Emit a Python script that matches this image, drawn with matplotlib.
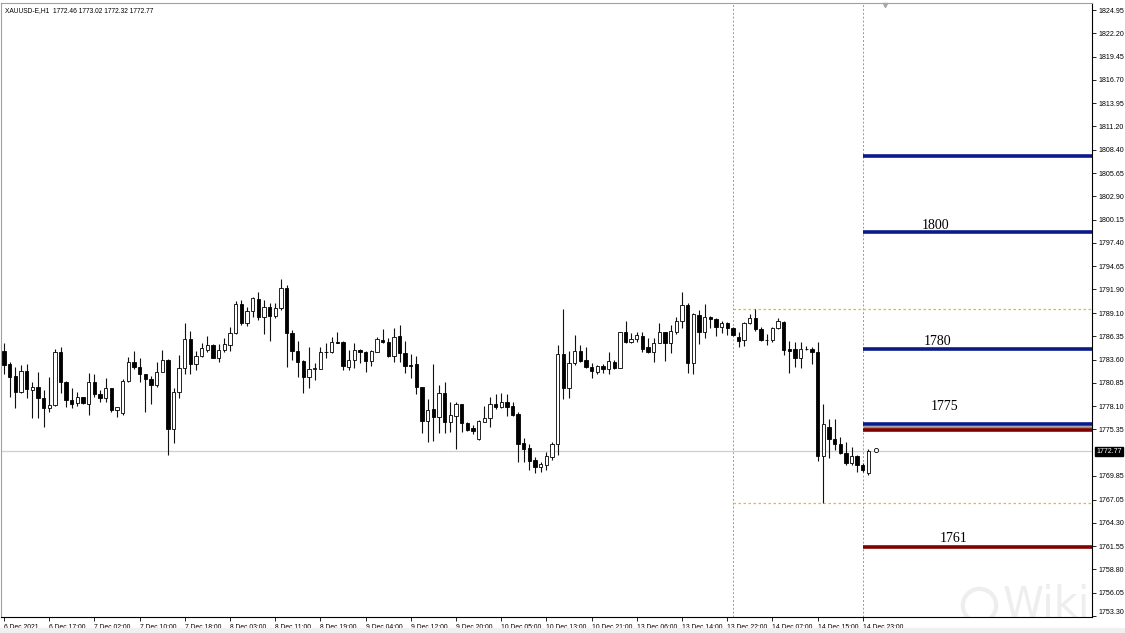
import matplotlib
matplotlib.use("Agg")
import matplotlib.pyplot as plt
import matplotlib.transforms as mtrans
import numpy as np

# XAUUSD H1 candles (6 Dec - 14 Dec 2021)
opens = [1784.62, 1783.04, 1781.66, 1779.81, 1782.25, 1780.05, 1780.32, 1779.10, 1777.92, 1778.23,
         1784.54, 1780.99, 1778.82, 1778.43, 1779.14, 1778.31, 1780.99, 1779.53, 1779.02, 1780.20,
         1777.64, 1777.25, 1781.07, 1783.36, 1782.77, 1781.86, 1781.27, 1780.60, 1782.18, 1783.56,
         1775.39, 1779.73, 1782.57, 1786.00, 1783.08, 1784.07, 1784.74, 1785.33, 1783.75, 1784.74,
         1785.33, 1786.71, 1790.14, 1787.89, 1789.35, 1790.77, 1788.68, 1789.86, 1788.80, 1789.67,
         1792.03, 1786.71, 1784.62, 1783.44, 1781.51, 1782.49, 1782.49, 1784.46, 1784.54, 1785.65,
         1785.72, 1782.77, 1783.56, 1784.74, 1784.46, 1783.44, 1784.54, 1785.92, 1785.72, 1784.03,
         1786.39, 1784.42, 1782.96, 1783.04, 1780.36, 1776.38, 1777.76, 1776.85, 1779.61, 1776.18,
         1776.96, 1778.35, 1776.14, 1775.47, 1774.20, 1776.26, 1776.65, 1778.35, 1777.95, 1778.54,
         1778.11, 1777.12, 1773.69, 1773.10, 1771.72, 1770.85, 1771.13, 1772.12, 1773.61, 1784.22,
         1780.28, 1783.16, 1784.61, 1783.55, 1782.76, 1782.17, 1782.84, 1782.48, 1783.35, 1782.64,
         1786.82, 1785.72, 1786.00, 1786.39, 1785.05, 1784.46, 1785.60, 1786.82, 1785.52, 1786.90,
         1788.16, 1790.05, 1783.15, 1788.87, 1786.82, 1788.60, 1788.40, 1787.41, 1787.89, 1787.29,
         1786.23, 1785.91, 1787.89, 1788.48, 1787.18, 1785.91, 1785.91, 1787.29, 1788.08, 1784.81,
         1784.81, 1783.75, 1784.81, 1784.81, 1784.53, 1772.23, 1775.66, 1774.20, 1773.57, 1772.59,
         1771.40, 1772.23, 1771.13, 1770.14]
highs = [1785.53, 1783.28, 1782.77, 1782.96, 1783.08, 1780.99, 1782.18, 1780.01, 1781.58, 1784.86,
         1785.13, 1781.07, 1780.28, 1779.73, 1779.22, 1781.98, 1781.90, 1780.01, 1781.39, 1780.28,
         1778.04, 1781.31, 1783.95, 1784.62, 1783.75, 1781.90, 1781.66, 1783.36, 1784.74, 1783.63,
         1780.20, 1784.15, 1787.89, 1786.99, 1784.62, 1785.61, 1786.39, 1785.45, 1785.41, 1786.12,
         1787.50, 1790.53, 1790.65, 1789.86, 1791.05, 1791.64, 1790.65, 1790.26, 1790.26, 1793.14,
         1792.43, 1787.10, 1785.80, 1783.56, 1785.13, 1783.16, 1785.13, 1785.53, 1786.32, 1786.83,
         1785.80, 1784.74, 1785.53, 1784.80, 1784.62, 1784.70, 1786.32, 1787.18, 1786.20, 1787.30,
         1787.70, 1785.80, 1784.23, 1784.07, 1780.40, 1778.94, 1783.04, 1780.60, 1780.99, 1778.54,
         1778.54, 1778.40, 1776.20, 1775.86, 1776.45, 1778.11, 1779.13, 1779.53, 1779.69, 1779.49,
         1778.54, 1777.44, 1774.28, 1773.61, 1772.12, 1771.52, 1772.63, 1773.89, 1785.32, 1789.58,
         1784.61, 1786.51, 1785.32, 1785.05, 1783.16, 1782.96, 1783.08, 1784.46, 1783.55, 1786.90,
         1788.20, 1786.70, 1786.90, 1786.90, 1786.11, 1786.11, 1787.89, 1786.90, 1787.69, 1788.67,
         1791.63, 1790.25, 1789.07, 1789.46, 1790.13, 1788.79, 1788.48, 1788.16, 1788.08, 1787.49,
         1786.90, 1788.08, 1788.95, 1789.58, 1787.49, 1786.58, 1787.49, 1788.48, 1788.16, 1785.80,
         1785.72, 1785.72, 1785.20, 1785.13, 1785.64, 1778.30, 1776.57, 1776.57, 1774.48, 1773.89,
         1773.30, 1772.31, 1771.32, 1773.02]
lows = [1781.86, 1779.22, 1777.84, 1779.61, 1779.02, 1776.73, 1776.65, 1775.67, 1777.44, 1778.15,
        1779.61, 1777.96, 1777.84, 1778.15, 1778.31, 1777.05, 1779.22, 1778.63, 1778.63, 1777.44,
        1776.85, 1777.05, 1780.99, 1782.45, 1780.99, 1777.44, 1778.31, 1780.40, 1782.10, 1772.32,
        1773.70, 1779.02, 1781.94, 1781.94, 1782.37, 1783.87, 1784.54, 1783.75, 1783.36, 1784.54,
        1784.62, 1786.59, 1787.70, 1787.62, 1788.68, 1788.29, 1786.59, 1785.80, 1788.48, 1789.47,
        1782.77, 1783.56, 1781.58, 1779.61, 1780.20, 1781.19, 1782.45, 1783.75, 1784.34, 1785.53,
        1782.37, 1782.37, 1782.57, 1783.16, 1782.18, 1782.85, 1784.46, 1785.53, 1783.95, 1783.28,
        1783.28, 1781.98, 1781.39, 1779.49, 1774.96, 1773.90, 1774.01, 1774.88, 1774.95, 1775.07,
        1773.02, 1775.07, 1775.19, 1774.80, 1774.09, 1776.18, 1775.66, 1777.75, 1777.83, 1776.96,
        1776.93, 1771.45, 1771.52, 1770.54, 1770.14, 1770.34, 1770.54, 1771.72, 1772.31, 1778.90,
        1779.02, 1782.96, 1783.35, 1782.56, 1781.38, 1781.85, 1782.05, 1781.85, 1782.48, 1782.56,
        1785.52, 1785.52, 1785.72, 1784.54, 1784.34, 1783.35, 1785.52, 1783.43, 1784.34, 1786.58,
        1787.29, 1782.05, 1781.85, 1785.40, 1786.11, 1787.29, 1786.43, 1786.70, 1786.51, 1786.43,
        1785.13, 1785.20, 1787.77, 1786.98, 1785.80, 1785.32, 1785.72, 1787.22, 1784.14, 1782.05,
        1782.76, 1782.56, 1784.73, 1783.07, 1771.60, 1766.59, 1772.00, 1772.90, 1772.43, 1771.13,
        1771.13, 1770.26, 1770.34, 1769.94]
closes = [1782.96, 1781.58, 1779.81, 1782.29, 1780.09, 1780.32, 1779.10, 1777.84, 1778.23, 1784.54,
          1780.91, 1778.82, 1778.35, 1779.14, 1778.43, 1780.99, 1779.53, 1779.10, 1780.20, 1777.64,
          1777.96, 1781.07, 1783.36, 1782.77, 1781.86, 1781.27, 1780.60, 1782.18, 1783.56, 1775.39,
          1779.73, 1782.57, 1786.00, 1783.08, 1784.07, 1784.94, 1785.33, 1783.83, 1784.74, 1785.41,
          1786.79, 1790.14, 1787.97, 1789.35, 1790.85, 1788.68, 1789.86, 1788.80, 1789.67, 1792.03,
          1786.71, 1784.62, 1783.28, 1781.51, 1782.49, 1782.57, 1784.46, 1784.54, 1785.65, 1785.61,
          1782.85, 1783.56, 1784.74, 1784.46, 1783.44, 1784.62, 1786.00, 1785.72, 1784.03, 1786.32,
          1784.42, 1782.89, 1782.90, 1780.40, 1776.38, 1777.64, 1776.85, 1779.61, 1776.26, 1777.04,
          1778.31, 1776.06, 1775.27, 1775.19, 1776.37, 1776.73, 1778.35, 1777.95, 1778.54, 1778.03,
          1777.04, 1773.61, 1773.02, 1771.64, 1770.85, 1771.25, 1772.23, 1773.61, 1784.22, 1780.20,
          1783.23, 1784.61, 1783.43, 1782.76, 1782.25, 1782.84, 1782.48, 1783.43, 1782.64, 1786.82,
          1785.72, 1786.00, 1786.51, 1784.85, 1784.46, 1785.60, 1786.82, 1785.52, 1786.98, 1788.16,
          1790.05, 1783.23, 1788.95, 1786.82, 1788.67, 1788.36, 1787.41, 1787.89, 1787.29, 1786.51,
          1785.80, 1787.96, 1788.48, 1787.18, 1785.91, 1785.87, 1787.29, 1788.16, 1784.73, 1784.65,
          1783.75, 1784.81, 1784.85, 1784.46, 1772.19, 1775.94, 1774.20, 1773.57, 1772.59, 1771.40,
          1772.23, 1771.13, 1770.54, 1772.77]

time_labels = ["6 Dec 2021", "6 Dec 17:00", "7 Dec 02:00", "7 Dec 10:00", "7 Dec 18:00",
               "8 Dec 03:00", "8 Dec 11:00", "8 Dec 19:00", "9 Dec 04:00", "9 Dec 12:00",
               "9 Dec 20:00", "10 Dec 05:00", "10 Dec 13:00", "10 Dec 21:00", "13 Dec 06:00",
               "13 Dec 14:00", "13 Dec 22:00", "14 Dec 07:00", "14 Dec 15:00", "14 Dec 23:00"]
price_ticks = [1824.95, 1822.20, 1819.45, 1816.70, 1813.95, 1811.20, 1808.40, 1805.65, 1802.90,
               1800.15, 1797.40, 1794.65, 1791.90, 1789.10, 1786.35, 1783.60, 1780.85, 1778.10,
               1775.35, 1769.85, 1767.05, 1764.30, 1761.55, 1758.80, 1756.05, 1753.30]

blue_levels = [1807.68, 1798.69, 1784.80, 1776.04]
red_levels = [1775.22, 1761.44]
level_names = ["1800", "1780", "1775", "1761"]
name_prices = [1799.52, 1785.80, 1778.11, 1762.50]
box_levels = [1789.59, 1766.64]
bid = 1772.77
title = "XAUUSD-E,H1  1772.46 1773.02 1772.32 1772.77"

o = np.array(opens); h = np.array(highs); l = np.array(lows); c = np.array(closes)
n = len(o)
x = np.arange(n)
up = c >= o

fig = plt.figure(figsize=(11.25, 6.33), dpi=100)
fig.patch.set_facecolor("white")
ax = fig.add_axes([1 / 1125, 16 / 633, 1091 / 1125, 614 / 633])
bar_px = 5.65
x_left = -3 / bar_px
x_right = 1088 / bar_px
ax.set_xlim(x_left, x_right)
ax.set_ylim(1753.16, 1825.78)

# vertical markers and box lines
v_start, v_now = 129, 152
for xv in (v_start, v_now):
    ax.axvline(xv, color="#9a9a9a", lw=0.7, ls=(0, (2, 2)), zorder=1)
for yv in box_levels:
    ax.hlines(yv, v_start, x_right, color="#e8b830", lw=0.9, ls=(0, (2, 2)), zorder=1)
ax.axhline(bid, color="#cfcfcf", lw=0.9, zorder=1)

# candles
ax.vlines(x, l, h, color="#111111", lw=0.8, zorder=2)
body_low = np.minimum(o, c)
body_h = np.maximum(np.abs(c - o), 0.07)
ax.bar(x, body_h, bottom=body_low, width=0.6, color=np.where(up, "white", "black"),
       edgecolor="black", linewidth=0.6, zorder=3)

# level lines
for yv in blue_levels:
    ax.hlines(yv, v_now, x_right, color="#0a1a8a", lw=2.6, zorder=4)
ax.hlines((blue_levels[-1] + red_levels[0]) / 2, v_now, x_right, color="#8c8c8c", lw=1.8, zorder=4)
for yv in red_levels:
    ax.hlines(yv, v_now, x_right, color="#800000", lw=2.6, zorder=4)
name_x = [164.96, 165.3, 166.4, 168.1]
for nx, ny, txt in zip(name_x, name_prices, level_names):
    ax.text(nx, ny, txt, ha="center", va="center", fontsize=10, family="Liberation Serif", zorder=5)

# little markers
ax.plot(154.3, bid + 0.15, marker="o", ms=3, mfc="white", mec="black", mew=0.6, zorder=5)
ax.plot(155.9, 1825.55, marker="v", ms=3, color="#a8a8a8", clip_on=False, zorder=5)

# faint watermark (cut by the chart edge, as on the screen)
ax.text(176.8, 1754.6, "WikiFX", fontsize=30, color="#eeeeee", va="center", ha="left",
        family="DejaVu Sans", zorder=0, clip_on=True)
ax.plot(172.6, 1754.6, marker="o", ms=24, mfc="none", mec="#eeeeee", mew=3, zorder=0, clip_on=True)

# title
ax.text(0.004, 0.993, title, transform=ax.transAxes, ha="left", va="top", fontsize=4.8,
        family="Liberation Sans")

# axes styling
for side in ("left", "top"):
    ax.spines[side].set_color("#a0a0a0")
    ax.spines[side].set_linewidth(0.8)
for side in ("right", "bottom"):
    ax.spines[side].set_color("black")
    ax.spines[side].set_linewidth(0.8)

ax.yaxis.tick_right()
ax.set_yticks(price_ticks)
ax.set_yticklabels([f"{v:.2f}" for v in price_ticks])
ax.tick_params(axis="y", direction="out", length=3, width=0.6, pad=2, labelsize=5.1)
ax.set_xticks(np.arange(0, 8 * len(time_labels), 8))
ax.set_xticklabels(time_labels)
ax.tick_params(axis="x", direction="out", length=3, width=0.6, pad=2, labelsize=4.9)
for lab in ax.get_xticklabels() + ax.get_yticklabels():
    lab.set_family("Liberation Sans")
for lab in ax.get_xticklabels():
    lab.set_horizontalalignment("left")
# the lowest price label sits a bit higher, above the time scale
ax.get_yticklabels()[-1].set_verticalalignment("bottom")

# current price box on the scale
tr = mtrans.blended_transform_factory(ax.transAxes, ax.transData)
ax.text(1.004, bid, f"{bid:.2f}", transform=tr, ha="left", va="center", fontsize=5.1,
        family="Liberation Sans", color="white",
        bbox=dict(boxstyle="square,pad=0.15", fc="black", ec="black"))

fig.patches.append(plt.Rectangle((0, 0), 1, 5 / 633, transform=fig.transFigure,
                                 fc="#f0f0f0", ec="none"))

fig.savefig("out.png", dpi=100)
